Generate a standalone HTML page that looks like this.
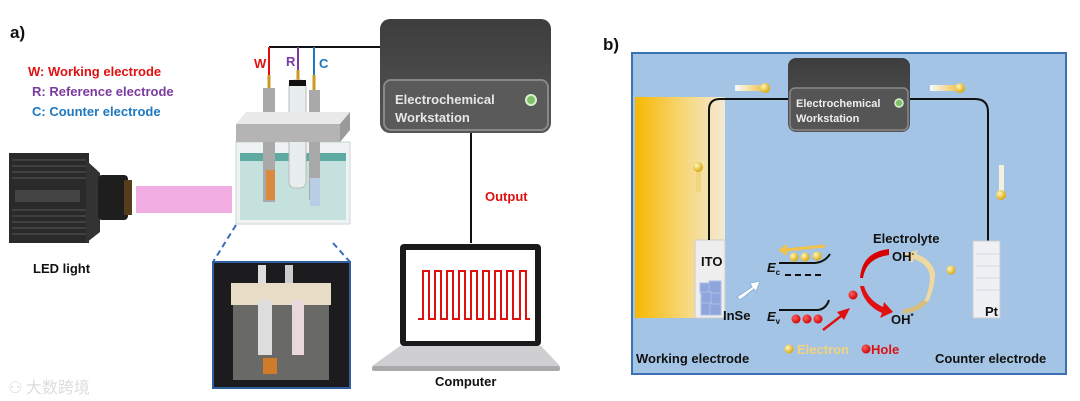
<!DOCTYPE html>
<html><head><meta charset="utf-8"><style>
html,body{margin:0;padding:0;background:#fff;}
svg{display:block;font-family:"Liberation Sans",Arial,sans-serif;font-weight:bold;}
</style></head><body>
<svg width="1080" height="401" viewBox="0 0 1080 401" xmlns="http://www.w3.org/2000/svg">
<defs>
<linearGradient id="gold" x1="0" x2="1" y1="0" y2="0"><stop offset="0" stop-color="#f6b800"/><stop offset="0.55" stop-color="#f7d77a"/><stop offset="1" stop-color="#f3ead6"/></linearGradient>
<linearGradient id="box" x1="0" x2="0" y1="0" y2="1"><stop offset="0" stop-color="#3d3d3d"/><stop offset="1" stop-color="#555"/></linearGradient>
<linearGradient id="streakL" x1="0" x2="1"><stop offset="0" stop-color="#fff" stop-opacity="0.9"/><stop offset="1" stop-color="#f2c24a"/></linearGradient>
<radialGradient id="ball" cx="0.35" cy="0.35" r="0.7"><stop offset="0" stop-color="#fff7c0"/><stop offset="1" stop-color="#d9a400"/></radialGradient>
<radialGradient id="rball" cx="0.35" cy="0.35" r="0.7"><stop offset="0" stop-color="#ff6060"/><stop offset="1" stop-color="#d00000"/></radialGradient>
</defs>

<!-- Panel a -->
<text x="10" y="38" font-size="17" fill="#111">a)</text>
<text x="28" y="76" font-size="13" fill="#e01010">W: Working electrode</text>
<text x="32" y="96" font-size="13" fill="#7b3aa0">R: Reference electrode</text>
<text x="32" y="116" font-size="13" fill="#1d78c0">C: Counter electrode</text>

<!-- wires -->
<path d="M269 47 H380" stroke="#111" stroke-width="2" fill="none"/>
<line x1="269" y1="47" x2="269" y2="75" stroke="#e01010" stroke-width="2"/>
<line x1="298" y1="47" x2="298" y2="70" stroke="#7b3aa0" stroke-width="2"/>
<line x1="314" y1="47" x2="314" y2="75" stroke="#1d78c0" stroke-width="2"/>
<text x="254" y="68" font-size="13" fill="#e01010">W</text>
<text x="286" y="66" font-size="13" fill="#7b3aa0">R</text>
<text x="319" y="68" font-size="13" fill="#1d78c0">C</text>
<line x1="269" y1="75" x2="269" y2="90" stroke="#c89a20" stroke-width="3"/>
<line x1="298" y1="70" x2="298" y2="100" stroke="#c89a20" stroke-width="3"/>
<line x1="314" y1="75" x2="314" y2="92" stroke="#c89a20" stroke-width="3"/>
<!-- cell -->
<rect x="236" y="142" width="114" height="82" fill="#eef2f2" stroke="#cfd6d6"/>
<rect x="240" y="158" width="106" height="62" fill="#b9dcd8" opacity="0.8"/>
<rect x="240" y="153" width="106" height="8" fill="#5ea9a2"/>
<rect x="263" y="88" width="12" height="114" fill="#a9a9a9"/>
<rect x="289" y="80" width="17" height="108" rx="6" fill="#e8eded" stroke="#bbb"/>
<rect x="289" y="80" width="17" height="6" fill="#111"/>
<rect x="309" y="90" width="11" height="110" fill="#a9a9a9"/>
<rect x="266" y="170" width="9" height="30" fill="#d98a3d"/>
<rect x="310" y="178" width="10" height="28" fill="#b9cde6"/>
<polygon points="236,124 246,112 350,112 340,124" fill="#e9e9e9"/>
<rect x="236" y="124" width="104" height="18" fill="#b4b4b4"/>
<polygon points="340,124 350,112 350,130 340,142" fill="#9a9a9a"/>
<!-- dashed -->
<line x1="236" y1="225" x2="213" y2="262" stroke="#3a6bbd" stroke-width="2" stroke-dasharray="6,4"/>
<line x1="333" y1="243" x2="350" y2="262" stroke="#3a6bbd" stroke-width="2" stroke-dasharray="6,4"/>
<!-- photo -->
<rect x="213" y="262" width="137" height="126" fill="#1c1c1e" stroke="#2f5f9f" stroke-width="2"/>
<rect x="231" y="283" width="100" height="22" fill="#e7dcc6"/>
<rect x="233" y="305" width="96" height="75" fill="#8a8a88" opacity="0.7"/>
<rect x="258" y="300" width="14" height="55" fill="#ddd"/>
<rect x="292" y="300" width="12" height="55" fill="#e8d8dc"/>
<rect x="263" y="358" width="14" height="16" fill="#d07b2a"/>
<rect x="258" y="265" width="8" height="18" fill="#ddd"/><rect x="285" y="265" width="8" height="18" fill="#ccc"/>
<!-- camera -->
<rect x="9" y="153" width="80" height="90" fill="#2a2a2a"/>
<g stroke="#555" stroke-width="1">
<line x1="12" y1="160" x2="86" y2="160"/><line x1="12" y1="166" x2="86" y2="166"/><line x1="12" y1="172" x2="86" y2="172"/><line x1="12" y1="178" x2="86" y2="178"/><line x1="12" y1="210" x2="86" y2="210"/><line x1="12" y1="216" x2="86" y2="216"/><line x1="12" y1="222" x2="86" y2="222"/><line x1="12" y1="228" x2="86" y2="228"/><line x1="12" y1="234" x2="86" y2="234"/>
</g>
<rect x="15" y="190" width="65" height="12" fill="#444"/>
<polygon points="86,160 100,173 100,232 86,243" fill="#333"/>
<rect x="98" y="175" width="30" height="45" rx="4" fill="#1e1e1e"/>
<rect x="124" y="180" width="8" height="35" fill="#553c1a"/>
<rect x="136" y="186" width="96" height="27" fill="#f2aee2"/>
<text x="33" y="273" font-size="13" fill="#111">LED light</text>
<!-- workstation -->
<rect x="380" y="19" width="171" height="114" rx="10" fill="url(#box)"/>
<rect x="384" y="80" width="164" height="50" rx="7" fill="#5a5a5a" stroke="#888" stroke-width="2"/>
<text x="395" y="104" font-size="13" fill="#e6e6e6">Electrochemical</text>
<text x="395" y="122" font-size="13" fill="#e6e6e6">Workstation</text>
<circle cx="531" cy="100" r="5" fill="#7fc06a" stroke="#d9f0cf" stroke-width="2"/>
<line x1="471" y1="133" x2="471" y2="243" stroke="#111" stroke-width="2"/>
<text x="485" y="201" font-size="13" fill="#e01010">Output</text>
<!-- laptop -->
<rect x="400" y="244" width="141" height="102" rx="4" fill="#1a1a1a"/>
<rect x="406" y="250" width="129" height="91" fill="#fff"/>
<path d="M418 319 H423 V271 H429 V319 H435 V271 H441 V319 H447 V271 H453 V319 H459 V271 H465 V319 H471 V271 H477 V319 H483 V271 H489 V319 H495 V271 H501 V319 H507 V271 H513 V319 H520 V271 H526 V319 H530" fill="none" stroke="#e01010" stroke-width="2"/>
<polygon points="400,346 541,346 560,366 372,366" fill="#cfcfd1"/>
<rect x="372" y="366" width="188" height="5" rx="2" fill="#a9a9ab"/>
<text x="435" y="386" font-size="13" fill="#111">Computer</text>
<text x="8" y="393" font-size="16" fill="#ddd" font-weight="normal" font-family="'Noto Sans CJK SC',sans-serif">⚇ 大数跨境</text>

<!-- Panel b -->
<text x="603" y="50" font-size="17" fill="#111">b)</text>
<rect x="632" y="53" width="434" height="321" fill="#a3c4e4" stroke="#3c72b4" stroke-width="2"/>
<rect x="635" y="97" width="90" height="221" fill="url(#gold)"/>
<rect x="695" y="240" width="30" height="78" fill="#eeeeee" stroke="#ccc"/>
<g fill="#8ea6dc" stroke="#aebfe8"><rect x="700" y="283" width="10" height="10"/><rect x="709" y="281" width="12" height="12"/><rect x="701" y="292" width="11" height="11"/><rect x="711" y="293" width="10" height="11"/><rect x="701" y="303" width="10" height="12"/><rect x="710" y="304" width="11" height="11"/></g>
<path d="M709 240 V110 Q709 99 720 99 H790" fill="none" stroke="#111" stroke-width="2"/>
<path d="M908 99 H975 Q988 99 988 112 V241" fill="none" stroke="#111" stroke-width="2"/>
<rect x="788" y="58" width="122" height="74" rx="8" fill="url(#box)"/>
<rect x="790" y="88" width="118" height="42" rx="5" fill="#555" stroke="#888" stroke-width="1.5"/>
<text x="796" y="107" font-size="11" fill="#eee">Electrochemical</text>
<text x="796" y="122" font-size="11" fill="#eee">Workstation</text>
<circle cx="899" cy="103" r="4" fill="#7fc06a" stroke="#d9f0cf" stroke-width="1.5"/>
<rect x="735" y="85" width="28" height="6" fill="url(#streakL)"/><circle cx="765" cy="88" r="5" fill="url(#ball)"/>
<rect x="930" y="85" width="28" height="6" fill="url(#streakL)"/><circle cx="960" cy="88" r="5" fill="url(#ball)"/>
<rect x="696" y="167" width="5" height="25" fill="#f1d27a" opacity="0.8"/><circle cx="698" cy="167" r="5" fill="url(#ball)"/>
<rect x="999" y="165" width="5" height="28" fill="#f6f0e0"/><circle cx="1001" cy="195" r="5" fill="url(#ball)"/>
<rect x="973" y="241" width="27" height="77" fill="#eef0f4" stroke="#ccc"/>
<g stroke="#d6dbe4"><line x1="976" y1="254" x2="1000" y2="254"/><line x1="976" y1="266" x2="1000" y2="266"/><line x1="976" y1="278" x2="1000" y2="278"/><line x1="976" y1="290" x2="1000" y2="290"/></g>
<text x="985" y="316" font-size="13" fill="#111">Pt</text>
<text x="701" y="266" font-size="13" fill="#111">ITO</text>
<text x="723" y="320" font-size="13" fill="#111">InSe</text>
<!-- bands -->
<path d="M785 250 L825 246" stroke="#f2c24a" stroke-width="3"/>
<polygon points="778,250 787,244 787,256" fill="#f2c24a"/>
<circle cx="794" cy="257" r="4.5" fill="url(#ball)"/><circle cx="805" cy="257" r="4.5" fill="url(#ball)"/><circle cx="817" cy="256" r="4.5" fill="url(#ball)"/>
<path d="M779 263 H815 Q825 262 830 254" fill="none" stroke="#111" stroke-width="2"/>
<path d="M785 275 H822" stroke="#111" stroke-width="2" stroke-dasharray="6,4"/>
<text x="767" y="272" font-size="13" fill="#111" font-style="italic">E<tspan font-size="8" dy="3" font-style="normal">c</tspan></text>
<path d="M779 310 H818 Q826 309 829 300" fill="none" stroke="#111" stroke-width="2"/>
<text x="767" y="321" font-size="13" fill="#111" font-style="italic">E<tspan font-size="8" dy="3" font-style="normal">v</tspan></text>
<circle cx="796" cy="319" r="4.5" fill="url(#rball)"/><circle cx="807" cy="319" r="4.5" fill="url(#rball)"/><circle cx="818" cy="319" r="4.5" fill="url(#rball)"/>
<polygon points="737,297 752,287 750,283 760,281 756,292 754,289 740,300" fill="#fff" stroke="#8db3e0"/>
<line x1="823" y1="330" x2="845" y2="313" stroke="#e01010" stroke-width="2.5"/>
<polygon points="850,308 837,312 844,320" fill="#e01010"/>
<circle cx="853" cy="295" r="4.5" fill="url(#rball)"/>
<!-- cycle -->
<path d="M889 249 Q862 252 860 278 L863 278 Q866 258 889 255 Z" fill="#d80000"/>
<path d="M860 286 Q864 305 882 313 L880 318 L893 312 L884 302 L883 307 Q868 300 864 286 Z" fill="#e21010"/>
<path d="M928 302 Q935 288 935 272 Q930 258 916 254 L918 250 L904 254 L912 263 L914 259 Q928 264 930 276 Q930 290 923 304 Z" fill="#efd9a0"/>
<path d="M903 314 Q920 312 928 302 L923 300 Q915 308 903 309 Z" fill="#d6bd80"/>
<text x="873" y="243" font-size="13" fill="#111">Electrolyte</text>
<text x="892" y="261" font-size="13" fill="#111">OH<tspan font-size="8" dy="-5">-</tspan></text>
<text x="891" y="324" font-size="13" fill="#111">OH<tspan font-size="8" dy="-5">*</tspan></text>
<circle cx="951" cy="270" r="4.5" fill="url(#ball)"/>
<circle cx="789" cy="349" r="4.5" fill="url(#ball)"/>
<text x="797" y="354" font-size="13" fill="#f4d27c">Electron</text>
<circle cx="866" cy="349" r="4.5" fill="url(#rball)"/>
<text x="871" y="354" font-size="13" fill="#e01010">Hole</text>
<text x="636" y="363" font-size="13" fill="#111">Working electrode</text>
<text x="935" y="363" font-size="13" fill="#111">Counter electrode</text>
</svg>
</body></html>
